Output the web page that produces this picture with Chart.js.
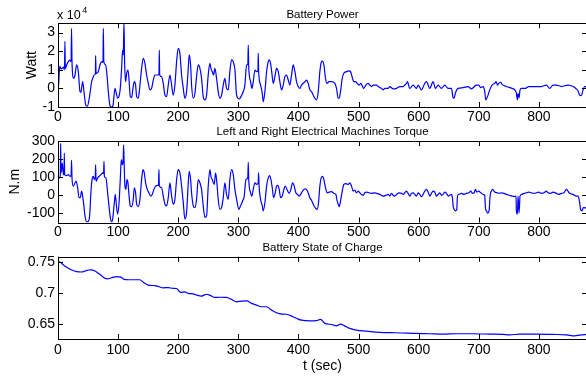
<!DOCTYPE html>
<html>
<head>
<meta charset="utf-8">
<script src="https://cdn.jsdelivr.net/npm/chart.js@4.4.0/dist/chart.umd.min.js"></script>
<style>
  html, body { margin: 0; padding: 0; background: #fff; }
  #wrap { position: relative; width: 586px; height: 381px; overflow: hidden; }
  #wrap canvas { position: absolute; left: 0; }
</style>
</head>
<body>
<div id="wrap">
  <canvas id="powerChart" width="590" height="124" style="top:0px"></canvas>
  <canvas id="torqueChart" width="590" height="116" style="top:124px"></canvas>
  <canvas id="socChart" width="590" height="141" style="top:240px"></canvas>
</div>
<script>
// drive cycle traces, time in seconds

const powerTime = [
  0, 1, 3, 5, 7.2, 9, 10.8, 11.5, 12.2, 14.4, 17.2, 19.5, 21.8, 22.5, 23.3, 26, 28.3, 31, 33.8, 36.6,
  38.2, 41, 43.8, 46.5, 48.8, 52, 56, 58.7, 60.4, 62.2, 62.6, 63.3, 67, 69.8, 72.6, 74.8, 75.4, 76.2, 79.2, 81.5,
  83.7, 86.5, 89.2, 91.4, 94.8, 97, 99.2, 101.4, 103.6, 105.8, 107.5, 108.6, 109.7, 110.8, 112.5, 114.2, 116.4, 118, 120.3, 122.5,
  124.7, 126.9, 129.1, 130.8, 133.6, 136.3, 139.1, 141.9, 144.6, 147.4, 150.2, 152.9, 155.7, 158.5, 161.3, 166.8, 168, 168.5, 169.2, 172.3,
  175.1, 177.9, 180.7, 183.4, 186.2, 189, 191.7, 194.5, 197.3, 200, 202.8, 205.6, 208.4, 211.1, 213.9, 216.7, 218.3, 220.6, 222.2, 225,
  227.8, 230.5, 233.3, 236.1, 238.8, 241.6, 244.4, 247.2, 249.9, 252.7, 254.4, 256.6, 258.8, 261, 263.8, 266.5, 269.3, 272.1, 274.9, 277.6,
  280.4, 283.2, 285.9, 288.7, 291.5, 294.3, 297.1, 301.5, 304.3, 307.1, 310.9, 313.7, 315.8, 316.5, 317.2, 320.4, 322.6, 324.8, 327.6, 330.3,
  332.6, 333.1, 333.8, 337, 339.8, 341.4, 344.2, 347, 349.7, 351.4, 353.6, 355.8, 358, 360.8, 363.6, 366.4, 369.1, 371.9, 374.7, 377.4,
  380.2, 383, 385.7, 388.5, 391.3, 394.1, 396.8, 399.6, 402.4, 405.1, 410.7, 413.5, 416.2, 419, 421.8, 424.5, 427.3, 430.1, 432.9, 435.6,
  438.4, 440.1, 442.3, 445, 447.8, 450.6, 455, 460.6, 463.3, 466.1, 467.8, 470, 472.8, 475.5, 480, 484.4, 486.6, 489.9, 492.1, 494.9,
  497.7, 501, 503.8, 506.6, 508.8, 512.1, 516, 518.7, 521.5, 524.3, 529.8, 532.6, 538.1, 540.9, 543.7, 549.2, 552, 557.5, 563.1, 568.6,
  574.2, 576.9, 579.7, 581.3, 585.2, 590.8, 596.3, 599.1, 604.6, 610.1, 612.9, 618.5, 624, 627.9, 632.3, 637.9, 643.4, 649, 654.5, 657.3,
  658.9, 661.1, 663.3, 665.6, 673.9, 682.2, 687.7, 696, 699.9, 703.3, 707.7, 709.9, 711.6, 713.2, 715.4, 718.2, 722.1, 726.5, 728.7, 731,
  733.2, 736.5, 738.7, 745.9, 755.3, 759.8, 762.5, 764.2, 765.3, 767, 768.6, 770.9, 777.5, 783, 793, 804.1, 812.4, 818, 823.5, 829.1,
  837.4, 848.4, 856.8, 862.3, 865.1, 867.8, 870.6, 873.4, 876.2, 880
];
const powerWatt = [
  0, 2000, 12000, 10500, 10800, 11500, 10000, 25300, 10500, 12600, 14400, 15200, 14500, 32100, 14400, 5400, 7200, 12600, 9000, -1700,
  -2100, 3600, -3500, -9300, -9600, -5300, 3600, 6300, 7200, 8000, 17600, 8100, 9000, 12600, 14400, 14000, 32300, 14400, 12600, 7200,
  -1700, -9300, -10000, -9300, 0, -2600, -5300, -4400, 0, 10800, 20600, 18000, 36000, 14400, 3600, 8100, 9900, 5400, -4400, -5000,
  0, 3600, 1800, -4400, -5300, 1800, 10800, 16200, 13500, 7200, 2700, -800, 0, 4500, 7200, 7200, 8000, 20600, 7200, 6300,
  2700, -3600, -4400, 1800, 7200, 1800, -3600, 1800, 14400, 21500, 18800, 7200, 0, -5300, -1700, 10800, 18000, 12600, 1800, -5300,
  -2600, 6300, 12600, 10800, 5400, -4400, -6200, -3600, 7200, 13500, 10800, 9000, 7200, 10800, 5400, -1700, -5300, -3600, 1800, 5400,
  0, -800, 9000, 15300, 14400, 10000, -3600, -5700, -4400, -2600, 1800, 12600, 13000, 23300, 12000, 3600, 0, 3600, 9900, 9000,
  9500, 18800, 9000, 1800, -2600, -7200, -1700, 9000, 14400, 15300, 13500, 8100, 2700, 6300, 10800, 9000, 3600, -800, 1800, 6300,
  7200, 4500, 1800, 7200, 12600, 9000, 3600, 1000, 0, 1800, 3600, 4500, 2700, -800, -1700, -3600, -5300, -6200, -1700, 9000,
  14400, 14700, 12600, 5400, 2700, 3600, 3600, 2700, 0, -5300, -5300, -1700, 5400, 8100, 9000, 9400, 9000, 5400, 3600, 3600,
  2700, 1800, 2700, 1000, 0, 1800, 2700, 1800, 1000, 1800, 1800, 1000, 0, -800, 0, 0, 1000, -300, 0, 1000,
  1000, 1800, 2700, 3600, 0, 1800, 0, 1800, -800, 2700, 3600, 0, 3600, 0, 1800, 0, 1800, 0, 0, -5000,
  -5300, -2600, -800, 0, 400, 1000, -300, 1800, 1800, 400, 1000, -1700, -6200, -5300, -3600, -800, 1800, 2700, 3600, 1800,
  2700, 3300, 2200, 1000, 0, -800, -2600, -6200, -2600, -5000, -800, 0, 0, 1000, 1000, 1000, 1800, 0, 1800, 1800,
  1000, 1800, 1000, -300, -1400, -3600, -3900, -800, 1000, 1000
];

const torqueTime = [
  0, 0.8, 2.8, 3.8, 4.4, 5.1, 7.2, 8.9, 10, 10.5, 11.1, 14.4, 17.2, 20, 21.8, 22.5, 23.3, 25.5, 30, 32.7,
  34.9, 37.1, 39.3, 42.1, 44.9, 47.7, 50.4, 52.6, 54.9, 57.1, 58.7, 60.4, 62, 62.6, 63.3, 65.9, 68.2, 71.5, 74.3, 75.8,
  76.5, 77.2, 79.8, 82, 84.2, 87, 89.2, 90.9, 93.7, 95.3, 97, 99.2, 101.4, 103.6, 105.3, 107, 108.5, 109.2, 110.3, 111.4,
  113, 114.7, 116.4, 118, 120.3, 122.5, 125.2, 126.9, 129.1, 130.8, 133.6, 136.3, 139.1, 141.3, 143.5, 145.7, 148.5, 151.3, 154.1, 156.8,
  159.6, 162.4, 165.7, 167.3, 167.9, 168.6, 172.3, 175.1, 177.9, 180.7, 183.4, 186.2, 189, 191.7, 194.5, 197.3, 200, 202.8, 205.6, 208.4,
  211.1, 213.9, 216.7, 218.3, 220.6, 222.2, 225, 227.8, 230.5, 233.3, 236.1, 238.8, 241.6, 244.4, 247.2, 249.9, 252.7, 254.4, 256.6, 259.9,
  262.1, 264.3, 266.5, 269.3, 272.1, 274.9, 277.6, 280.4, 283.2, 285.9, 288.7, 291.5, 294.3, 297.1, 301, 303.7, 307.1, 309.8, 312.6, 315.8,
  316.5, 317.3, 320.4, 322.6, 324.8, 327.6, 330.3, 333, 333.7, 334.5, 337, 339.8, 341.4, 344.2, 347, 349.7, 351.9, 354.2, 356.4, 358.6,
  360.8, 363.6, 365.2, 368, 370.2, 373, 375.8, 378, 381.3, 384.6, 387.4, 390.2, 393, 395.7, 398.5, 401.3, 405.1, 409, 412.4, 415.1,
  419, 422.3, 425.7, 429, 431.2, 433.4, 435.6, 437.8, 440.1, 442.3, 445, 447.8, 451.1, 455, 458.9, 462.2, 464.4, 466.1, 467.8, 470,
  472.8, 475.5, 478.9, 482.7, 485.5, 488.3, 491, 493.8, 496.6, 499.4, 502.1, 504.9, 507.7, 510.4, 513.2, 517.6, 521.5, 525.4, 529.8, 535.4,
  540.9, 545.3, 549.2, 552, 554.8, 557.5, 560.3, 563.1, 567.5, 571.4, 574.2, 576.9, 579.7, 582.4, 585.2, 588, 590.8, 593.5, 596.3, 599.1,
  601.8, 604.6, 607.4, 610.1, 612.9, 615.7, 618.5, 621.2, 624, 626.8, 629.5, 632.3, 635.1, 637.9, 640.6, 643.4, 646.2, 649, 654.5, 656.1,
  657.3, 658.9, 661.1, 663.3, 664.5, 666.7, 671.1, 675.5, 679.4, 683.3, 686.6, 689.4, 692.2, 694.4, 696.6, 699.9, 703.3, 707.1, 709.9, 711,
  712.7, 714.9, 717.1, 718.8, 721, 723.2, 726.5, 731, 734.8, 737.6, 742, 745.9, 751.5, 755.3, 759.8, 762, 762.5, 764.2, 765.3, 767,
  768.6, 770.9, 775.3, 779.2, 783, 787.5, 791.9, 795.8, 799.7, 804.1, 808.5, 812.4, 815.2, 819.6, 823.5, 829.1, 832.9, 837.4, 841.8, 845.7,
  848.4, 851.2, 856.8, 862.3, 865.1, 867.8, 869.5, 871.7, 873.9, 876.2, 880
];
const torqueNm = [
  0, 100, 96, 110, 287, 124, 178, 114, 115, 233, 114, 109, 114, 105, 110, 193, 96, 51, 78, 42,
  -13, -13, 23, -31, -113, -146, -144, -113, 23, 96, 105, 87, 100, 169, 78, 96, 105, 114, 124, 120,
  187, 105, 96, 33, -40, -122, -146, -131, -40, 5, -49, -104, -49, 87, 197, 169, 200, 279, 142, 51,
  33, 87, 69, 5, -58, -62, -22, 42, 14, -49, -62, -22, 87, 142, 124, 69, 33, 14, -4, 5,
  33, 51, 55, 60, 142, 51, 42, -4, -49, -58, -13, 69, -4, -49, -22, 87, 142, 124, 51, -40,
  -131, -95, 69, 133, 87, 14, -58, -68, -22, 87, 69, 33, -58, -122, -113, 51, 142, 105, 87, 60,
  124, 69, -22, -77, -68, -13, 69, 5, -22, 87, 142, 115, 33, -22, -77, -58, -31, -4, 87, 100,
  182, 87, 14, -4, 33, 69, 60, 70, 124, 51, -22, -58, -86, -40, 51, 96, 109, 87, 42, -13,
  5, 51, 55, 33, -13, -4, 33, 51, 29, 11, 33, 69, 51, 14, 5, -4, 14, 33, 36, 23,
  -13, -31, -58, -73, -77, -40, 51, 96, 105, 87, 42, 14, 18, 20, 11, 5, -31, -49, -62, -31,
  23, 60, 65, 60, 69, 51, 23, 29, 14, 23, 14, 5, 0, 14, 18, 14, 11, 14, 11, 5,
  -4, 0, 5, -4, 11, 0, -4, 5, 14, 11, 5, 14, 23, 11, -4, 11, 14, 5, -4, 14,
  5, -7, 5, 23, 33, 18, -4, 11, 23, 18, -4, 5, 14, 0, 5, 18, 11, -4, 5, -13,
  -58, -77, -86, -80, -4, 5, 11, 5, 11, 14, 23, 11, 14, 33, 18, 23, 14, 5, 0, -68,
  -86, -98, -86, -4, 23, 33, 18, 14, 11, 14, 11, 5, 0, -4, -7, -4, -86, -104, -4, -98,
  -4, 5, 11, 14, 18, 14, 11, 14, 18, 11, 14, 23, 14, 11, 18, 11, 5, 11, 14, 33,
  23, 11, 5, -4, -4, -40, -80, -86, -68, -68, -75
];

const socTime = [
  0, 3.3, 9, 14.4, 22.7, 31, 39.4, 45, 50.4, 55, 61.5, 67, 72.5, 78, 82.5, 89, 97.5, 104.7, 109.7, 117,
  125, 136.3, 141.8, 150, 161, 168.4, 175, 183.4, 191.7, 197, 204, 211, 216.7, 225, 230.5, 239, 247, 254, 261, 269,
  280, 288.7, 297, 305.5, 313.8, 322, 330, 338.6, 347, 355, 363.5, 372, 380, 391, 399.5, 405, 419, 430, 436.7, 444,
  455, 463.3, 470, 477, 485.5, 496.5, 513, 535, 563, 596, 618, 640.6, 662.8, 690.5, 718.2, 740.4, 751.5, 768, 796, 823.5,
  845.7, 859.5, 868, 880
];
const socValue = [
  0.750, 0.7495, 0.7447, 0.741, 0.7367, 0.734, 0.7335, 0.735, 0.7367, 0.737, 0.735, 0.7313, 0.7275, 0.7233, 0.7225, 0.7243, 0.726, 0.7253, 0.7217, 0.721,
  0.721, 0.721, 0.7169, 0.7125, 0.7115, 0.7098, 0.708, 0.7085, 0.7072, 0.707, 0.7008, 0.7015, 0.6992, 0.6985, 0.6965, 0.6949, 0.6978, 0.6955, 0.6927, 0.693,
  0.6927, 0.6895, 0.6857, 0.6868, 0.687, 0.6831, 0.6804, 0.6777, 0.6777, 0.6724, 0.668, 0.666, 0.6657, 0.6616, 0.6579, 0.6563, 0.6552, 0.6555, 0.6574, 0.651,
  0.6493, 0.6471, 0.65, 0.647, 0.643, 0.6402, 0.6386, 0.6365, 0.636, 0.6349, 0.6344, 0.6338, 0.6344, 0.6344, 0.6338, 0.6333, 0.6327, 0.6338, 0.6338, 0.6333,
  0.6327, 0.6311, 0.6322, 0.6335
];

// axis ticks
const timeTicks = [0, 100, 200, 300, 400, 500, 600, 700, 800];
const powerTicks = [-10000, 0, 10000, 20000, 30000];
const torqueTicks = [-100, 0, 100, 200, 300];
const socTicks = [0.65, 0.7, 0.75];

const T_MAX = 880;
const FONT = "'Liberation Sans', Arial, Helvetica, sans-serif";

function toPoints(xs, ys) {
  return xs.map((x, i) => ({ x, y: ys[i] }));
}

function fixedTicks(values) {
  return scale => { scale.ticks = values.map(v => ({ value: v })); };
}

// closed box with inward tick marks on all four sides
const boxTicks = {
  id: 'boxTicks',
  afterDatasetsDraw(chart) {
    const { ctx, chartArea: a, scales: { x, y } } = chart;
    const len = 5;
    ctx.save();
    ctx.strokeStyle = '#000';
    ctx.lineWidth = 1;
    ctx.beginPath();
    x.ticks.forEach(t => {
      const px = Math.round(x.getPixelForValue(t.value)) + 0.5;
      ctx.moveTo(px, a.top); ctx.lineTo(px, a.top + len);
      ctx.moveTo(px, a.bottom); ctx.lineTo(px, a.bottom - len);
    });
    y.ticks.forEach(t => {
      const py = Math.round(y.getPixelForValue(t.value)) + 0.5;
      ctx.moveTo(a.left, py); ctx.lineTo(a.left + len, py);
      ctx.moveTo(a.right, py); ctx.lineTo(a.right - len, py);
    });
    ctx.stroke();
    ctx.strokeRect(Math.round(a.left) + 0.5, Math.round(a.top) + 0.5,
      Math.round(a.right - a.left), Math.round(a.bottom - a.top));
    ctx.restore();
  }
};

// "x 10^4" multiplier above the power axis
const exponentLabel = {
  id: 'exponentLabel',
  afterDraw(chart) {
    const { ctx, chartArea: a } = chart;
    ctx.save();
    ctx.fillStyle = '#000';
    ctx.textBaseline = 'alphabetic';
    ctx.font = `12.5px ${FONT}`;
    ctx.fillText('x 10', a.left - 1, 19);
    const w = ctx.measureText('x 10').width;
    ctx.font = `9px ${FONT}`;
    ctx.fillText('4', a.left + w + 0.5, 13);
    ctx.restore();
  }
};

function makeChart(id, cfg) {
  return new Chart(document.getElementById(id), {
    type: 'line',
    data: {
      datasets: [{
        data: cfg.points,
        borderColor: '#0000ff',
        borderWidth: 1.2,
        pointRadius: 0,
        cubicInterpolationMode: 'monotone',
        fill: false
      }]
    },
    options: {
      responsive: false,
      animation: false,
      events: [],
      layout: { padding: { left: 0, right: 3, top: 0, bottom: 0 } },
      plugins: {
        legend: { display: false },
        tooltip: { enabled: false },
        title: {
          display: true,
          text: cfg.title,
          fullSize: false,
          color: '#000',
          font: { family: FONT, size: 11.5, weight: 'normal' },
          padding: { top: cfg.titleTop, bottom: 1.8 }
        }
      },
      scales: {
        x: {
          type: 'linear',
          min: 0,
          max: T_MAX,
          grid: { display: false, drawTicks: false },
          border: { display: false },
          afterBuildTicks: fixedTicks(timeTicks),
          ticks: {
            autoSkip: false, maxRotation: 0,
            padding: cfg.xPad, color: '#000', font: { family: FONT, size: 14 },
            callback: v => String(v)
          },
          title: {
            display: !!cfg.xTitle,
            text: cfg.xTitle || '',
            color: '#000',
            font: { family: FONT, size: 14 },
            padding: { top: 0, bottom: 6 }
          },
          afterFit: s => { s.height = cfg.xHeight; }
        },
        y: {
          min: cfg.yMin,
          max: cfg.yMax,
          grid: { display: false, drawTicks: false },
          border: { display: false },
          afterBuildTicks: fixedTicks(cfg.yTicks),
          ticks: {
            autoSkip: false,
            padding: 3, color: '#000', font: { family: FONT, size: 14 },
            callback: cfg.yFormat
          },
          title: {
            display: !!cfg.yTitle,
            text: cfg.yTitle || '',
            color: '#000',
            font: { family: FONT, size: 14 },
            padding: { top: cfg.yTitlePad || 0, bottom: 0 }
          },
          afterFit: s => { s.width = 58; }
        }
      }
    },
    plugins: cfg.plugins || [boxTicks]
  });
}

makeChart('powerChart', {
  title: 'Battery Power',
  titleTop: 7.7,
  points: toPoints(powerTime, powerWatt),
  yMin: -10000, yMax: 35000, yTicks: powerTicks,
  yFormat: v => String(v / 10000),
  yTitle: 'Watt', yTitlePad: 23.6,
  xPad: 1.5, xHeight: 17,
  plugins: [boxTicks, exponentLabel]
});

makeChart('torqueChart', {
  title: 'Left and Right Electrical Machines Torque',
  titleTop: 1.4,
  points: toPoints(torqueTime, torqueNm),
  yMin: -150, yMax: 300, yTicks: torqueTicks,
  yFormat: v => String(v),
  yTitle: 'N.m', yTitlePad: 6.9,
  xPad: 1.5, xHeight: 17.5
});

makeChart('socChart', {
  title: 'Battery State of Charge',
  titleTop: 1.1,
  points: toPoints(socTime, socValue),
  yMin: 0.626, yMax: 0.758, yTicks: socTicks,
  yFormat: v => String(+v.toFixed(2)),
  xPad: 2.5, xHeight: 42,
  xTitle: 't (sec)'
});
</script>
</body>
</html>
